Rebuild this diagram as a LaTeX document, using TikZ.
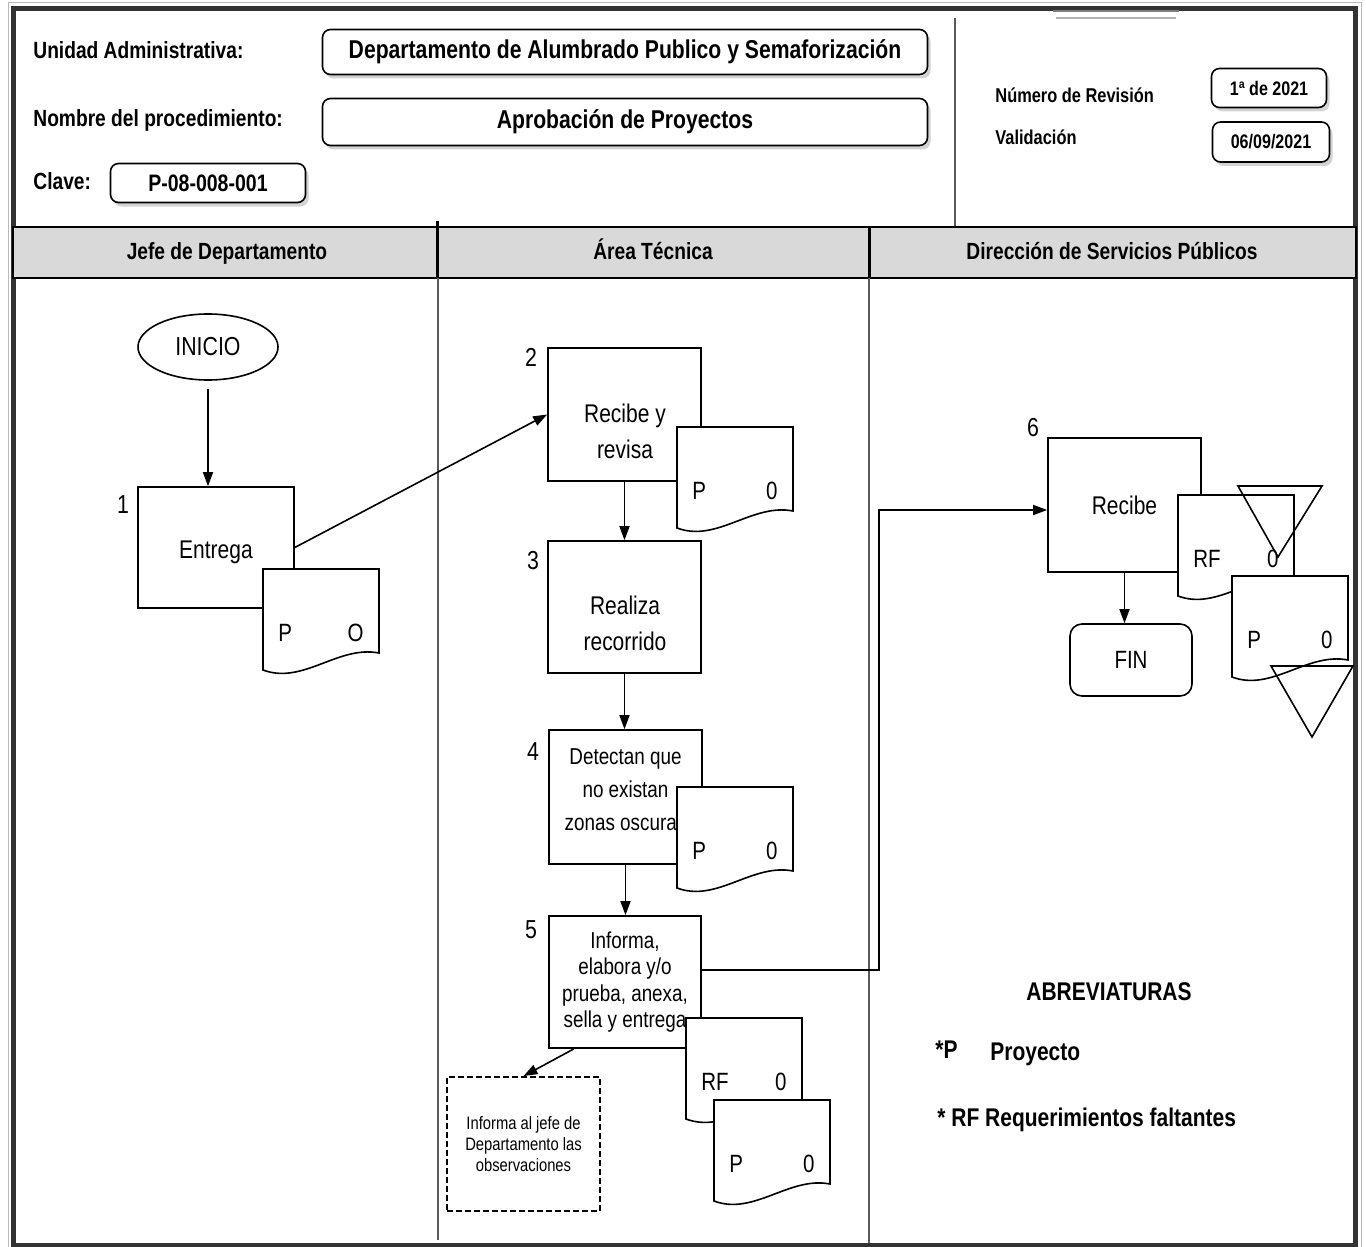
\documentclass[tikz,border=0pt]{standalone}
\usepackage{fontspec}
\setmainfont{Liberation Sans}[FakeStretch=0.82]
\usetikzlibrary{positioning,calc,arrows.meta,shapes.geometric,shadows}

\definecolor{framegray}{HTML}{333333}
\definecolor{lanefill}{HTML}{D9D9D9}
\definecolor{rulegray}{HTML}{5A5A5A}

% document sheet: name, top-left corner, left label, right label
\newcommand{\docsheet}[4]{%
  \node[docarea, anchor=north west] (#1) at #2 {};
  \filldraw[docline] (#1.north west) -- (#1.north east)
    -- ($(#1.north west)+(116,84)$)
    .. controls ($(#1.north west)+(75,76)$) and ($(#1.north west)+(40,116)$) .. ($(#1.north west)+(0,101)$)
    -- cycle;
  \node[doclbl, anchor=west] (#1-l) at ($(#1.north west)+(15,64)$) {#3};
  \node[doclbl, anchor=east] (#1-r) at ($(#1.north west)+(101,64)$) {#4};
}

\tikzset{
  headlbl/.style={anchor=west, inner sep=0, font=\bfseries\fontsize{11.7}{14}\selectfont},
  titlebox/.style={draw, line width=0.8pt, rounded corners=4pt, fill=white, inner sep=0,
    drop shadow={shadow xshift=1.5pt, shadow yshift=-2pt, opacity=0.35, fill=gray},
    font=\bfseries\fontsize{12.9}{15}\selectfont},
  revbox/.style={titlebox, minimum width=57.5pt, minimum height=19.5pt,
    font=\bfseries\fontsize{9.8}{12}\selectfont},
  lanelbl/.style={inner sep=0, text height=9pt, text depth=2.5pt, font=\bfseries\fontsize{11.7}{14}\selectfont},
  procbox/.style={draw, line width=0.8pt, fill=white, minimum width=76.5pt, minimum height=66.5pt,
    inner sep=1pt, align=center, font=\fontsize{12.8}{18}\selectfont},
  proctxt/.style={inner sep=0, align=center, font=\fontsize{12.8}{18}\selectfont},
  numlbl/.style={inner sep=0, font=\fontsize{13}{15}\selectfont},
  docarea/.style={minimum width=58pt, minimum height=52pt, inner sep=0, outer sep=0},
  docline/.style={draw=black, fill=white, line width=0.8pt},
  doclbl/.style={inner sep=0, font=\fontsize{12.5}{15}\selectfont},
  flow/.style={-{Triangle[length=7pt,width=5pt]}, line width=0.8pt},
  abbr/.style={inner sep=0, font=\bfseries\fontsize{12.8}{15}\selectfont}
}

\begin{document}
\begin{tikzpicture}[x=0.5pt, y=-0.5pt]
  \useasboundingbox (0,0) rectangle (1366,1247);

  % frame
  \draw[gray!55, line width=0.5pt] (8.5,2.5) rectangle (1361.5,1252);
  \draw[framegray, line width=2.5pt] (13.5,8.5) rectangle (1355.5,1245);
  \draw[gray, line width=0.8pt] (1053,11) -- (1179,11);
  \draw[gray!60, line width=0.8pt] (1056,18) -- (1176,18);

  % header
  \node[headlbl] (unidad) at (33,50) {Unidad Administrativa:};
  \node[headlbl] (nombre) at (33,120) {Nombre del procedimiento:};
  \node[headlbl] (clave) at (33,181) {Clave:};
  \node[titlebox, minimum width=302.5pt, minimum height=22.5pt] (depto) at (625,52)
    {Departamento de Alumbrado Publico y Semaforización};
  \node[titlebox, minimum width=302.5pt, minimum height=23.5pt] (proc) at (625,122)
    {Aprobación de Proyectos};
  \node[titlebox, minimum width=97.5pt, minimum height=19.5pt,
    font=\bfseries\fontsize{11.9}{14}\selectfont] (claveval) at (208,183) {P-08-008-001};
  \draw[rulegray, line width=0.6pt] (955,18) -- (955,226);
  \node[headlbl, font=\bfseries\fontsize{10}{12}\selectfont] (numrev) at (995,95) {Número de Revisión};
  \node[headlbl, font=\bfseries\fontsize{10}{12}\selectfont] (valid) at (995,137) {Validación};
  \node[revbox] (rev) at (1269,88) {1ª de 2021};
  \node[revbox, minimum width=58.5pt, minimum height=20pt] (fecha) at (1271,142) {06/09/2021};

  % lanes
  \draw[fill=lanefill, line width=1.2pt] (13,227) rectangle (1356,278);
  \draw[line width=1.5pt] (437,221) -- (437,278);
  \draw[line width=1.5pt] (869,227) -- (869,278);
  \draw[rulegray, line width=0.6pt] (438,278) -- (438,1240);
  \draw[rulegray, line width=0.6pt] (869,278) -- (869,1243);
  \node[lanelbl] (lane1) at (227,253) {Jefe de Departamento};
  \node[lanelbl] (lane2) at (653,253) {Área Técnica};
  \node[lanelbl] (lane3) at (1112,253) {Dirección de Servicios Públicos};

  % jefe de departamento
  \node[draw, ellipse, line width=0.8pt, minimum width=70pt, minimum height=33pt, inner sep=0,
    font=\fontsize{13}{15}\selectfont] (inicio) at (208,347) {INICIO};
  \node[procbox, minimum width=78pt, minimum height=60.5pt] (b1) at (216,547.5) {};
  \node[proctxt] (b1txt) at (216,552) {Entrega};
  \node[numlbl] (n1) at (123,505) {1};
  \docsheet{d1}{(263,569)}{P}{O}

  % area tecnica
  \node[procbox] (b2) at (624.5,414.5) {};
  \node[proctxt] (b2txt) at (625,431) {Recibe y\\revisa};
  \node[numlbl] (n2) at (531,357) {2};
  \docsheet{d2}{(677,427)}{P}{0}

  \node[procbox, minimum height=66pt] (b3) at (624.5,607) {};
  \node[proctxt] (b3txt) at (625,623) {Realiza\\recorrido};
  \node[numlbl] (n3) at (533,561) {3};

  \node[procbox, minimum height=67pt] (b4) at (625.5,797) {};
  \node[proctxt, font=\fontsize{11.5}{16.5}\selectfont] (b4txt) at (625.5,790)
    {Detectan que\\no existan\\zonas oscuras};
  \node[numlbl] (n4) at (533,752) {4};
  \docsheet{d4}{(677,787)}{P}{0}

  \node[procbox, minimum width=76pt, minimum height=66pt, font=\fontsize{11.5}{13.3}\selectfont] (b5) at (625,982)
    {Informa,\\elabora y/o\\prueba, anexa,\\sella y entrega};
  \node[numlbl] (n5) at (531,930) {5};
  \docsheet{d5a}{(686,1018)}{RF}{0}
  \docsheet{d5b}{(714,1100)}{P}{0}

  \node[draw, dashed, dash pattern=on 3pt off 1.5pt, line width=0.9pt, minimum width=76.5pt, minimum height=67pt,
    align=center, inner sep=0, font=\fontsize{9}{10.3}\selectfont] (obs) at (523.5,1144)
    {Informa al jefe de\\Departamento las\\observaciones};

  % direccion de servicios publicos
  \node[procbox, minimum height=67pt] (b6) at (1124.5,505) {Recibe};
  \node[numlbl] (n6) at (1033,428) {6};
  \docsheet{d6a}{(1178,495)}{RF}{0}
  \docsheet{d6b}{(1232,576)}{P}{0}
  \draw[line width=0.8pt] (1238,486) -- (1322,486) -- (1278,557) -- cycle;
  \draw[line width=0.8pt] (1271,666) -- (1353,666) -- (1312,737) -- cycle;
  \node[draw, rounded corners=6pt, line width=0.8pt, minimum width=61pt, minimum height=36pt,
    font=\fontsize{12.5}{15}\selectfont] (fin) at (1131,660) {FIN};

  % connectors
  \draw[flow] ([yshift=-4pt]inicio.south) -- (inicio.south |- b1.north);
  \draw[flow] (b1.east) -- (b2.west);
  \draw[flow] (b2.south) -- (b3.north);
  \draw[flow] (b3.south) -- (b3.south |- b4.north);
  \draw[flow] (b4.south) -- (b4.south |- b5.north);
  \draw[flow] ([xshift=-25.5pt]b5.south) -- (obs.north);
  \draw[flow] ([yshift=6pt]b5.east) -- ++(177,0) |- ([yshift=-2.5pt]b6.west);
  \draw[flow] (b6.south) -- (b6.south |- fin.north);

  % abreviaturas
  \node[abbr] (abrev) at (1109,992) {ABREVIATURAS};
  \node[abbr, anchor=west] (abp) at (935,1050) {*P};
  \node[abbr, anchor=west] (abproy) at (990,1054) {Proyecto};
  \node[abbr, anchor=west] (abrf) at (937,1120) {* RF Requerimientos faltantes};
\end{tikzpicture}
\end{document}
